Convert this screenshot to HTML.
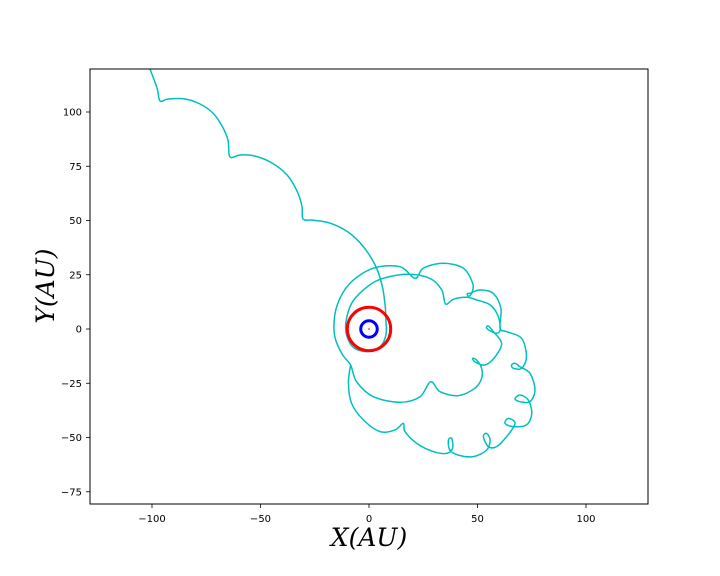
<!DOCTYPE html>
<html><head><meta charset="utf-8">
<style>
html,body{margin:0;padding:0;background:#fff;}
svg{display:block;}
text{font-family:"DejaVu Sans","Liberation Sans",sans-serif;}
.lbl{font-family:"DejaVu Serif","Liberation Serif",serif;font-style:italic;font-size:25px;}
</style></head>
<body>
<svg id="chart" width="720" height="576" viewBox="0 0 720 576">
<rect x="0" y="0" width="720" height="576" fill="#fff"/>
<defs><clipPath id="clip"><rect x="90" y="69" width="558" height="435"/></clipPath></defs>
<g id="plot" clip-path="url(#clip)"></g>
<rect x="90" y="69" width="558" height="435" fill="none" stroke="#000" stroke-width="1"/>
<g id="xticks"></g>
<g id="yticks"></g>
<text class="lbl" x="369" y="546" text-anchor="middle">X(AU)</text>
<text class="lbl" x="54" y="286" text-anchor="middle" transform="rotate(-90 54 286)">Y(AU)</text>
</svg>
<script>
const xTicks = [-100, -50, 0, 50, 100];
const yTicks = [-75, -50, -25, 0, 25, 50, 75, 100];
const trajX = [-102,-100.9,-97.7,-96.3,-92.6,-84.8,-77.9,-71.9,-67.7,-65.0,-64.1,-59.4,-52.5,-44.7,-37.8,-33.2,-30.9,-30.4,-25.8,-18.0,-9.7,-2.8,2.8,6.0,7.4,7.8,
7.8,5.1,-1.1,-7.2,-10.3,-10.6,-8.0,-2.6,5.1,17.4,28.1,33.5,35.3,
38.9,45.0,49.6,55.8,59.6,60.4,58.8,56.5,54.2,55.0,57.3,61.1,58.1,53.4,48.8,47.8,49.6,51.9,51.9,48.8,41.2,32.7,28.4,
23.5,14.3,2.0,-5.7,-8.5,
-12.6,-16.0,-14.9,-8.8,2.0,14.3,21.2,
25.0,34.2,43.5,47.8,47.5,46.0,45.3,47.0,51.1,57.3,60.8,60.4,63.4,70.3,72.6,70.3,66.5,65.7,67.3,69.6,74.2,76.5,74.2,69.6,67.3,69.6,73.4,75.0,72.6,66.5,62.7,64.2,67.3,63.4,58.8,55.0,52.7,54.2,55.8,54.2,48.1,41.2,37.3,36.6,38.1,38.5,35.8,29.6,22.0,16.6,15.8,
12.0,5.1,-2.6,-8.0,-9.5,-8.5];
const trajY = [123,119.8,111.1,105.1,106.0,106.0,103.7,99.5,93.5,87.1,79.3,80.2,79.7,76.5,71.0,63.6,56.7,50.7,50.2,48.8,44.7,38.2,29.5,20.3,11.1,4.1,
-2.8,-8.1,-10.4,-8.5,-2.8,3.4,11.8,18.0,22.9,25.2,23.3,18.0,11.5,
13.7,14.6,13.4,11.1,5.7,-0.5,-2.0,-1.2,0.3,1.4,-1.2,-6.6,-12.8,-16.6,-15.1,-13.5,-14.3,-18.1,-22.7,-27.3,-30.7,-28.9,-24.3,
-31.2,-33.8,-31.2,-24.3,-16.6,
-11.2,-2.0,10.3,21.0,28.0,28.7,23.3,
28.0,30.3,28.0,21.0,17.0,15.0,16.2,16.6,18.0,16.4,9.5,0.3,-1.2,-4.3,-12.8,-18.1,-18.1,-16.6,-15.8,-17.4,-20.4,-28.1,-33.5,-33.5,-32.2,-30.4,-32.7,-38.9,-44.2,-45.0,-43.5,-41.2,-43.5,-49.6,-54.2,-54.2,-49.6,-48.1,-51.2,-55.8,-58.8,-58.1,-55.8,-51.2,-50.4,-55.0,-57.3,-56.5,-52.7,-47.3,-43.5,
-46.5,-47.3,-41.9,-34.3,-25.0,-16.6];
const orbitRadii = [10, 3.8];
const orbitColors = ['#ff0000', '#0000ff'];

const NS = 'http://www.w3.org/2000/svg';
const X0 = 369, Y0 = 329, S = 2.17;
function sx(v){ return X0 + v * S; }
function sy(v){ return Y0 - v * S; }
function mk(tag, attrs, parent){ const e = document.createElementNS(NS, tag); for (const k in attrs) e.setAttribute(k, attrs[k]); parent.appendChild(e); return e; }

const plot = document.getElementById('plot');
const P = trajX.map((x, i) => [sx(x), sy(trajY[i])]);
let d = 'M' + P[0][0].toFixed(1) + ' ' + P[0][1].toFixed(1);
for (let i = 0; i < P.length - 1; i++) {
  const p0 = P[Math.max(i - 1, 0)], p1 = P[i], p2 = P[i + 1], p3 = P[Math.min(i + 2, P.length - 1)];
  const c1 = [p1[0] + (p2[0] - p0[0]) / 6, p1[1] + (p2[1] - p0[1]) / 6];
  const c2 = [p2[0] - (p3[0] - p1[0]) / 6, p2[1] - (p3[1] - p1[1]) / 6];
  d += 'C' + c1[0].toFixed(1) + ' ' + c1[1].toFixed(1) + ' ' + c2[0].toFixed(1) + ' ' + c2[1].toFixed(1) + ' ' + p2[0].toFixed(1) + ' ' + p2[1].toFixed(1);
}
const path = mk('path', {d: d, fill: 'none', stroke: '#00bfbf', 'stroke-width': 1.5, 'stroke-linejoin': 'round'}, plot);



for (let i = 0; i < orbitRadii.length; i++) {
  const c = mk('circle', {cx: sx(0), cy: sy(0), r: orbitRadii[i] * S, fill: 'none', stroke: orbitColors[i], 'stroke-width': 3}, plot);
  
  
}
const star = mk('circle', {cx: sx(0), cy: sy(0), r: 1.2, fill: '#ff8080'}, plot);



const xg = document.getElementById('xticks');
xTicks.forEach(v => {
  const t = mk('line', {x1: sx(v), x2: sx(v), y1: 504, y2: 508, stroke: '#000', 'stroke-width': 0.8}, xg);
  
  
  const l = mk('text', {x: sx(v), y: 522, 'text-anchor': 'middle', 'font-size': 10}, xg);
  l.textContent = v < 0 ? '\u2212' + Math.abs(v) : String(v);
  
  
});
const yg = document.getElementById('yticks');
yTicks.forEach(v => {
  const t = mk('line', {x1: 86, x2: 90, y1: sy(v), y2: sy(v), stroke: '#000', 'stroke-width': 0.8}, yg);
  
  
  const l = mk('text', {x: 82, y: sy(v) + 3.5, 'text-anchor': 'end', 'font-size': 10}, yg);
  l.textContent = v < 0 ? '\u2212' + Math.abs(v) : String(v);
  
  
});
</script>
</body></html>
